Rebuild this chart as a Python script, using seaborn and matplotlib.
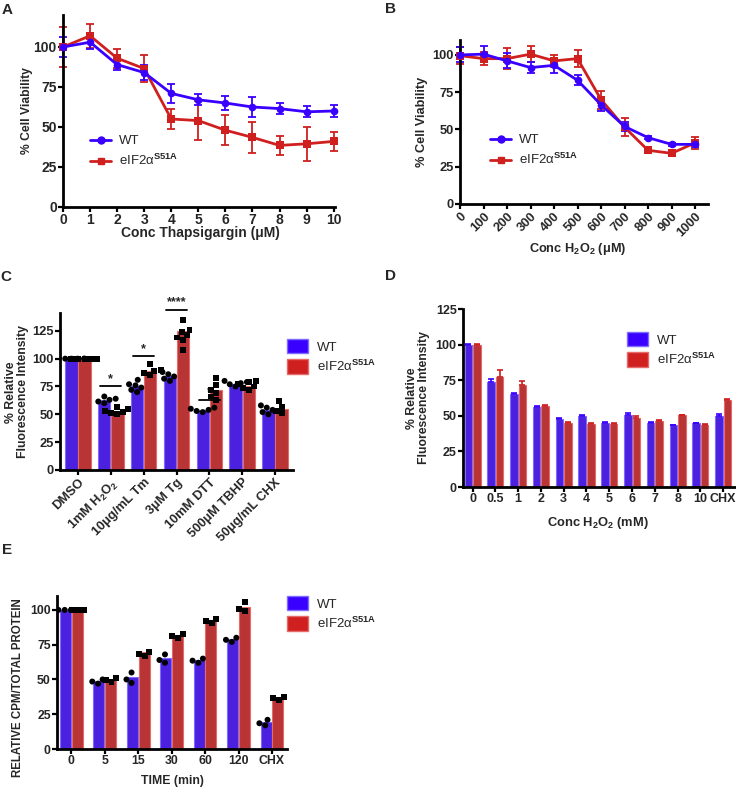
import numpy as np
import pandas as pd
import seaborn as sns
import matplotlib.pyplot as plt
from matplotlib.lines import Line2D
from matplotlib.patches import Patch

sns.set_theme(style="ticks")
plt.rcParams['font.family'] = ['Liberation Sans', 'DejaVu Sans']
plt.rcParams['font.weight'] = 'bold'
plt.rcParams['mathtext.fontset'] = 'custom'
plt.rcParams['mathtext.rm'] = 'Liberation Sans'
plt.rcParams['mathtext.bf'] = 'Liberation Sans:bold'
plt.rcParams['mathtext.it'] = 'Liberation Sans:italic'

BLUE = "#3A00FF"
RED = "#CF1F1F"
BLUE_EDGE = "#7F6BFF"
RED_EDGE = "#E66A6A"
genos = ["WT", "S51A"]
MUT_LABEL = r"eIF2α$^{\mathrm{S51A}}$"

# ---- panel A: thapsigargin viability
conc_tg = [0, 1, 2, 3, 4, 5, 6, 7, 8, 9, 10]
wt_tg = [100, 103, 89, 84, 71, 67, 65, 62.5, 61.5, 59.5, 60]
wt_tg_err = [6, 4.5, 3.5, 4.5, 6, 3.5, 4.5, 6.5, 3.5, 3.5, 4]
mut_tg = [100, 107, 93, 86.5, 55, 54, 48, 43.5, 38.5, 39.5, 41]
mut_tg_err = [12.5, 7.5, 6, 8.5, 6, 12, 9.5, 9.5, 6, 10.5, 6]

# ---- panel B: H2O2 viability
conc_h2o2 = [0, 100, 200, 300, 400, 500, 600, 700, 800, 900, 1000]
wt_h2o2 = [100, 100.5, 96, 91.5, 93, 83, 66.5, 52, 44.5, 40, 40]
wt_h2o2_err = [5, 5.5, 5, 3.5, 5, 3.5, 4, 3, 1, 1, 2]
mut_h2o2 = [99.5, 97.5, 97.5, 100.5, 96, 97.5, 70, 51.5, 36, 34, 41]
mut_h2o2_err = [5.5, 4.5, 7, 5.5, 4, 5.5, 6, 6, 2, 1.5, 4]

# ---- panel C: stressors, fluorescence
c_conds = ["DMSO", "H2O2", "Tm", "Tg", "DTT", "TBHP", "CHX"]
c_labels = ["DMSO", r"1mM H$_\mathbf{2}$O$_\mathbf{2}$", "10μg/mL Tm", "3μM Tg",
            "10mM DTT", "500μM TBHP", "50μg/mL CHX"]
wt_c = [100, 63, 75, 84, 54, 77.5, 54]
mut_c = [100, 52, 89, 125, 72, 75, 54.5]
wt_c_pts = [[100] * 6, [60, 61.5, 63, 64, 66], [70, 72, 74, 76, 77, 81],
            [80, 82, 84, 86, 88], [52, 53, 54, 55, 56], [75, 77, 78, 79, 80],
            [50, 52, 54, 56, 58]]
mut_c_pts = [[100] * 6, [50, 51, 52, 53, 55, 57], [85, 87, 89, 90, 95],
             [108, 117, 119, 121, 124, 126, 135], [63, 66, 69, 72, 76, 83],
             [72, 74, 75, 77, 79, 80], [51, 53, 57, 62]]
c_sig = [(1, 75, "*"), (2, 102, "*"), (3, 144, "****"), (4, 63, "*")]

# ---- panel D: H2O2 dose, fluorescence
d_conds = ["0", "0.5", "1", "2", "3", "4", "5", "6", "7", "8", "10", "CHX"]
wt_d = [100, 73.5, 65, 56.4, 47.7, 49.8, 45.1, 50.5, 45.1, 43.5, 44.6, 49.8]
wt_d_err = [0.3, 2, 1, 0.8, 0.5, 0.6, 0.4, 1.5, 0.3, 0.3, 0.4, 1.5]
mut_d = [100, 77.5, 71.4, 57, 45.1, 44.2, 44.2, 48.6, 46.5, 50.3, 43.7, 60.9]
mut_d_err = [0.3, 4.7, 3.3, 0.6, 0.4, 0.4, 0.4, 1, 0.4, 0.6, 0.4, 1]

# ---- panel E: translation time course
e_times = ["0", "5", "15", "30", "60", "120", "CHX"]
wt_e = [100, 48.8, 51.7, 65.3, 63.9, 79, 19.1]
mut_e = [100, 49.8, 69.4, 81.6, 92.8, 102.4, 36.6]
wt_e_pts = [[100, 100, 100], [47, 48.5, 50], [47.5, 50, 55], [62, 64, 68],
            [62, 63.5, 65], [77, 78.5, 80], [17, 18.5, 21]]
mut_e_pts = [[100, 100, 100], [48, 49.5, 51], [67, 68.5, 70], [80, 81, 82.5],
             [90.5, 92, 93.5], [99, 100.5, 106], [35, 36.5, 37.5]]

W, H = 736, 788
fig = plt.figure(figsize=(W / 100, H / 100), dpi=100)


def px_axes(l, t, r, b):
    return fig.add_axes([l / W, 1 - b / H, (r - l) / W, (b - t) / H])


def ftext(x, y, s, **kw):
    fig.text(x / W, 1 - y / H, s, ha="center", va="center", **kw)


def style(ax, size=9.5):
    sns.despine(ax=ax)
    for sp in ["left", "bottom"]:
        ax.spines[sp].set_linewidth(2)
        ax.spines[sp].set_color("black")
    ax.tick_params(width=1.6, length=3.5, color="black", labelsize=size, pad=1)


def bar_df(conds, wt, mut):
    return pd.DataFrame({"cond": list(conds) * 2, "geno": ["WT"] * len(conds) + ["S51A"] * len(conds),
                         "val": list(wt) + list(mut)})


def pts_df(conds, pts, geno):
    rows = [(c, geno, v) for c, vals in zip(conds, pts) for v in vals]
    return pd.DataFrame(rows, columns=["cond", "geno", "val"])


def draw_bars(ax, conds, wt, mut, width, gap):
    sns.barplot(data=bar_df(conds, wt, mut), x="cond", y="val", hue="geno", order=conds,
                hue_order=genos, palette=[BLUE, RED], width=width, gap=gap,
                errorbar=None, legend=False, ax=ax)
    for cont, ec in zip(ax.containers, [BLUE_EDGE, RED_EDGE]):
        for p in cont:
            p.set_edgecolor(ec)
            p.set_linewidth(0.8)


def draw_points(ax, conds, wt_pts, mut_pts, size):
    for g, pts, m in [("WT", wt_pts, "o"), ("S51A", mut_pts, "s")]:
        sns.swarmplot(data=pts_df(conds, pts, g), x="cond", y="val", hue="geno", order=conds,
                      hue_order=genos, palette={"WT": "black", "S51A": "black"}, dodge=True,
                      marker=m, size=size, legend=False, ax=ax, zorder=4, warn_thresh=1)


def bar_legend(ax, x, y):
    handles = [Patch(facecolor=BLUE, edgecolor=BLUE_EDGE), Patch(facecolor=RED, edgecolor=RED_EDGE)]
    ax.legend(handles, ["WT", MUT_LABEL], loc="upper left", bbox_to_anchor=(x / W, 1 - y / H),
              bbox_transform=fig.transFigure, frameon=False, prop={"weight": "normal", "size": 9.5},
              handlelength=1.6, handleheight=1.3, handletextpad=0.7, borderpad=0, borderaxespad=0,
              labelspacing=0.4)


def line_legend(ax, x, y):
    handles = [Line2D([], [], color=BLUE, marker="o", lw=2, ms=5),
               Line2D([], [], color=RED, marker="s", lw=2, ms=5)]
    ax.legend(handles, ["WT", MUT_LABEL], loc="upper left", bbox_to_anchor=(x / W, 1 - y / H),
              bbox_transform=fig.transFigure, frameon=False, prop={"weight": "normal", "size": 9.5},
              handlelength=1.6, handletextpad=0.6, borderpad=0, borderaxespad=0, labelspacing=0.45)


def draw_lines(ax, x, wt, wt_err, mut, mut_err):
    df = pd.DataFrame({"x": list(x) * 2, "y": list(wt) + list(mut),
                       "geno": ["WT"] * len(x) + ["S51A"] * len(x)})
    sns.lineplot(data=df, x="x", y="y", hue="geno", style="geno", hue_order=genos[::-1],
                 style_order=genos[::-1], palette={"WT": BLUE, "S51A": RED},
                 markers={"WT": "o", "S51A": "s"}, dashes=False, lw=2, markersize=5.5,
                 markeredgewidth=0, legend=False, ax=ax, clip_on=False, zorder=3)
    ax.errorbar(x, mut, yerr=mut_err, fmt="none", ecolor=RED, elinewidth=1.3, capsize=3,
                capthick=1.3, clip_on=False, zorder=2)
    ax.errorbar(x, wt, yerr=wt_err, fmt="none", ecolor=BLUE, elinewidth=1.3, capsize=3,
                capthick=1.3, clip_on=False, zorder=2)


# ---------------- A
axA = px_axes(63, 15, 335, 207)
draw_lines(axA, conc_tg, wt_tg, wt_tg_err, mut_tg, mut_tg_err)
axA.set_xlim(0, 10.05)
axA.set_ylim(0, 120)
axA.set_xticks(conc_tg)
axA.set_yticks([0, 25, 50, 75, 100])
axA.set_xlabel("")
axA.set_ylabel("")
style(axA, 10)
line_legend(axA, 90, 135)
ftext(200, 233, "Conc Thapsigargin (μM)", fontsize=10)
ftext(27, 111, "% Cell Viability", fontsize=8.7, rotation=90)

# ---------------- B
axB = px_axes(460, 40, 708, 204)
draw_lines(axB, conc_h2o2, wt_h2o2, wt_h2o2_err, mut_h2o2, mut_h2o2_err)
axB.set_xlim(0, 1055)
axB.set_ylim(0, 110)
axB.set_xticks(conc_h2o2)
axB.set_yticks([0, 25, 50, 75, 100])
axB.set_xlabel("")
axB.set_ylabel("")
style(axB, 9.3)
plt.setp(axB.get_xticklabels(), rotation=45, ha="right", rotation_mode="anchor")
line_legend(axB, 490, 134)
ftext(578, 249, r"Conc H$_\mathbf{2}$O$_\mathbf{2}$ (μM)", fontsize=9.2)
ftext(422, 122, "% Cell Viability", fontsize=9.2, rotation=90)

# ---------------- C
axC = px_axes(60, 313, 293, 470)
draw_bars(axC, c_conds, wt_c, mut_c, 0.8, 0.06)
draw_points(axC, c_conds, wt_c_pts, mut_c_pts, 4.3)
for i, h, s in c_sig:
    axC.plot([i - 0.32, i + 0.32], [h, h], color="black", lw=1.3, clip_on=False)
    axC.text(i, h + 1.5, s, ha="center", va="bottom", fontsize=9, clip_on=False)
axC.set_xlim(-0.55, 6.55)
axC.set_ylim(0, 141)
axC.set_yticks([0, 25, 50, 75, 100, 125])
axC.set_xticks(range(len(c_conds)))
axC.set_xticklabels(c_labels)
axC.set_xlabel("")
axC.set_ylabel("")
style(axC, 9.3)
plt.setp(axC.get_xticklabels(), rotation=45, ha="right", rotation_mode="anchor")
bar_legend(axC, 287, 339)
ftext(17, 392, "% Relative\nFluorescence Intensity", fontsize=8.8, rotation=90, linespacing=1.1)

# ---------------- D
axD = px_axes(463, 309, 735, 487)
draw_bars(axD, d_conds, wt_d, mut_d, 0.75, 0.12)
for cont, vals, errs, col in zip(axD.containers, [wt_d, mut_d], [wt_d_err, mut_d_err], [BLUE, RED]):
    xs = [p.get_x() + p.get_width() / 2 for p in cont]
    axD.errorbar(xs, vals, yerr=[np.zeros(len(errs)), errs], fmt="none", ecolor=col,
                 elinewidth=1.2, capsize=2.5, capthick=1.2, zorder=1)
axD.set_xlim(-0.42, 11.52)
axD.set_ylim(0, 125)
axD.set_yticks([0, 25, 50, 75, 100, 125])
axD.set_xlabel("")
axD.set_ylabel("")
style(axD, 9)
bar_legend(axD, 627, 332)
ftext(598, 523, r"Conc H$_\mathbf{2}$O$_\mathbf{2}$ (mM)", fontsize=9.3)
ftext(418, 398, "% Relative\nFluorescence Intensity", fontsize=8.8, rotation=90, linespacing=1.1)

# ---------------- E
axE = px_axes(57, 596, 287, 749)
draw_bars(axE, e_times, wt_e, mut_e, 0.7, 0.06)
draw_points(axE, e_times, wt_e_pts, mut_e_pts, 4.3)
axE.set_xlim(-0.43, 6.45)
axE.set_ylim(0, 110)
axE.set_yticks([0, 25, 50, 75, 100])
axE.set_xlabel("")
axE.set_ylabel("")
style(axE, 8.8)
bar_legend(axE, 287, 596)
ftext(172, 781, "TIME (min)", fontsize=8.8)
ftext(18, 688, "RELATIVE CPM/TOTAL PROTEIN", fontsize=8.3, rotation=90)

# panel letters
for x, y, s in [(7, 10, "A"), (390, 9, "B"), (6, 277, "C"), (390, 276, "D"), (7, 550, "E")]:
    ftext(x, y, s, fontsize=11)

fig.savefig("out.png", dpi=100)
